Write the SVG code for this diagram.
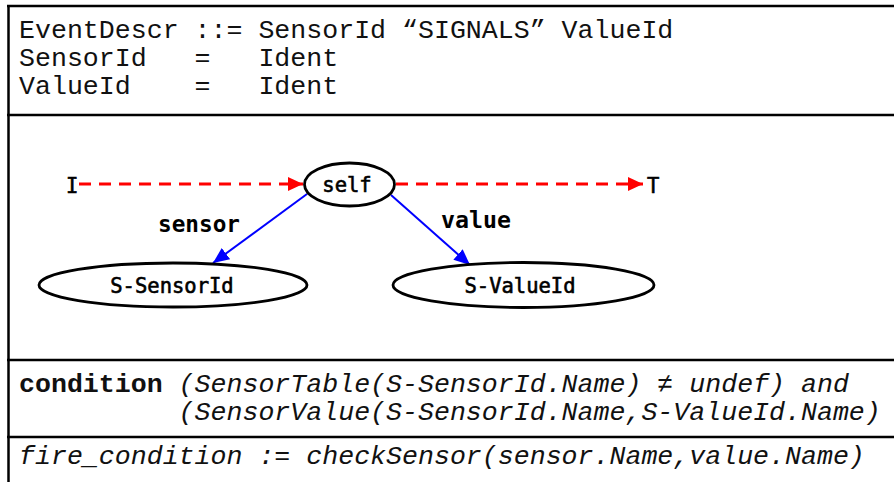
<svg xmlns="http://www.w3.org/2000/svg" width="894" height="482" viewBox="0 0 894 482">
  <defs>
    <style>
      .frame { stroke: #000; stroke-width: 2.5; fill: none; }
      .code { font-family: "Courier New", "Liberation Mono", monospace; font-size: 26.6px; fill: #111; }
      .kw { font-weight: bold; }
      .it { font-style: italic; }
      .node { fill: #fff; stroke: #000; stroke-width: 2.8; }
      .lbl { font-family: "DejaVu Sans Mono", monospace; font-size: 20.5px; fill: #000; stroke: #000; stroke-width: 0.6; }
      .elbl { font-family: "DejaVu Sans Mono", monospace; font-size: 23px; font-weight: bold; fill: #000; }
      .flow { stroke: #f00; stroke-width: 3; stroke-dasharray: 12 8; fill: none; }
      .attr { stroke: #00f; stroke-width: 2; fill: none; }
    </style>
    <marker id="redHead" markerWidth="16" markerHeight="16" refX="15" refY="7" orient="auto" markerUnits="userSpaceOnUse">
      <path d="M0,0 L15,7 L0,14 Z" fill="#f00"/>
    </marker>
    <marker id="blueHead" markerWidth="18" markerHeight="16" refX="16" refY="7" orient="auto" markerUnits="userSpaceOnUse">
      <path d="M0,0 L16,7 L0,14 Z" fill="#00f"/>
    </marker>
  </defs>

  <rect width="894" height="482" fill="#fff"/>

  <!-- table frame -->
  <g id="frame" class="frame">
    <line x1="8.5" y1="6" x2="8.5" y2="482"/>
    <line x1="7" y1="6" x2="894" y2="6"/>
    <line x1="7" y1="115" x2="894" y2="115"/>
    <line x1="7" y1="360" x2="894" y2="360"/>
    <line x1="7" y1="437" x2="894" y2="437"/>
  </g>

  <!-- grammar rules -->
  <g id="grammar" class="code">
    <text x="19" y="38" xml:space="preserve">EventDescr ::= SensorId “SIGNALS” ValueId</text>
    <text x="19" y="66" xml:space="preserve">SensorId   =   Ident</text>
    <text x="19" y="94" xml:space="preserve">ValueId    =   Ident</text>
  </g>

  <!-- connectors -->
  <g id="connectors">
    <line class="flow" x1="79" y1="184" x2="303" y2="184" marker-end="url(#redHead)"/>
    <line class="flow" x1="396" y1="184" x2="643" y2="184" marker-end="url(#redHead)"/>
    <line class="attr" x1="307" y1="194" x2="213" y2="263" marker-end="url(#blueHead)"/>
    <line class="attr" x1="391" y1="195" x2="470" y2="265" marker-end="url(#blueHead)"/>
    <text class="elbl" x="158" y="232" textLength="82" lengthAdjust="spacingAndGlyphs">sensor</text>
    <text class="elbl" x="441" y="228" textLength="70" lengthAdjust="spacingAndGlyphs">value</text>
  </g>

  <!-- graph nodes -->
  <g id="node-I">
    <text class="lbl" x="66" y="193">I</text>
  </g>
  <g id="node-T">
    <text class="lbl" x="647" y="193">T</text>
  </g>
  <g id="node-self">
    <ellipse class="node" cx="349.5" cy="184.5" rx="45" ry="21.5"/>
    <text class="lbl" x="347" y="192" text-anchor="middle">self</text>
  </g>
  <g id="node-S-SensorId">
    <ellipse class="node" cx="173" cy="285" rx="134" ry="22"/>
    <text class="lbl" x="172" y="293" text-anchor="middle">S-SensorId</text>
  </g>
  <g id="node-S-ValueId">
    <ellipse class="node" cx="523.5" cy="285" rx="130.5" ry="22.5"/>
    <text class="lbl" x="520" y="293" text-anchor="middle">S-ValueId</text>
  </g>

  <!-- conditions -->
  <g id="conditions" class="code">
    <text x="19" y="392" xml:space="preserve"><tspan class="kw">condition</tspan> <tspan class="it">(SensorTable(S-SensorId.Name) ≠ undef) and</tspan></text>
    <text x="178.6" y="420" class="it">(SensorValue(S-SensorId.Name,S-ValueId.Name)</text>
    <text x="19" y="464" class="it">fire_condition := checkSensor(sensor.Name,value.Name)</text>
  </g>
</svg>
